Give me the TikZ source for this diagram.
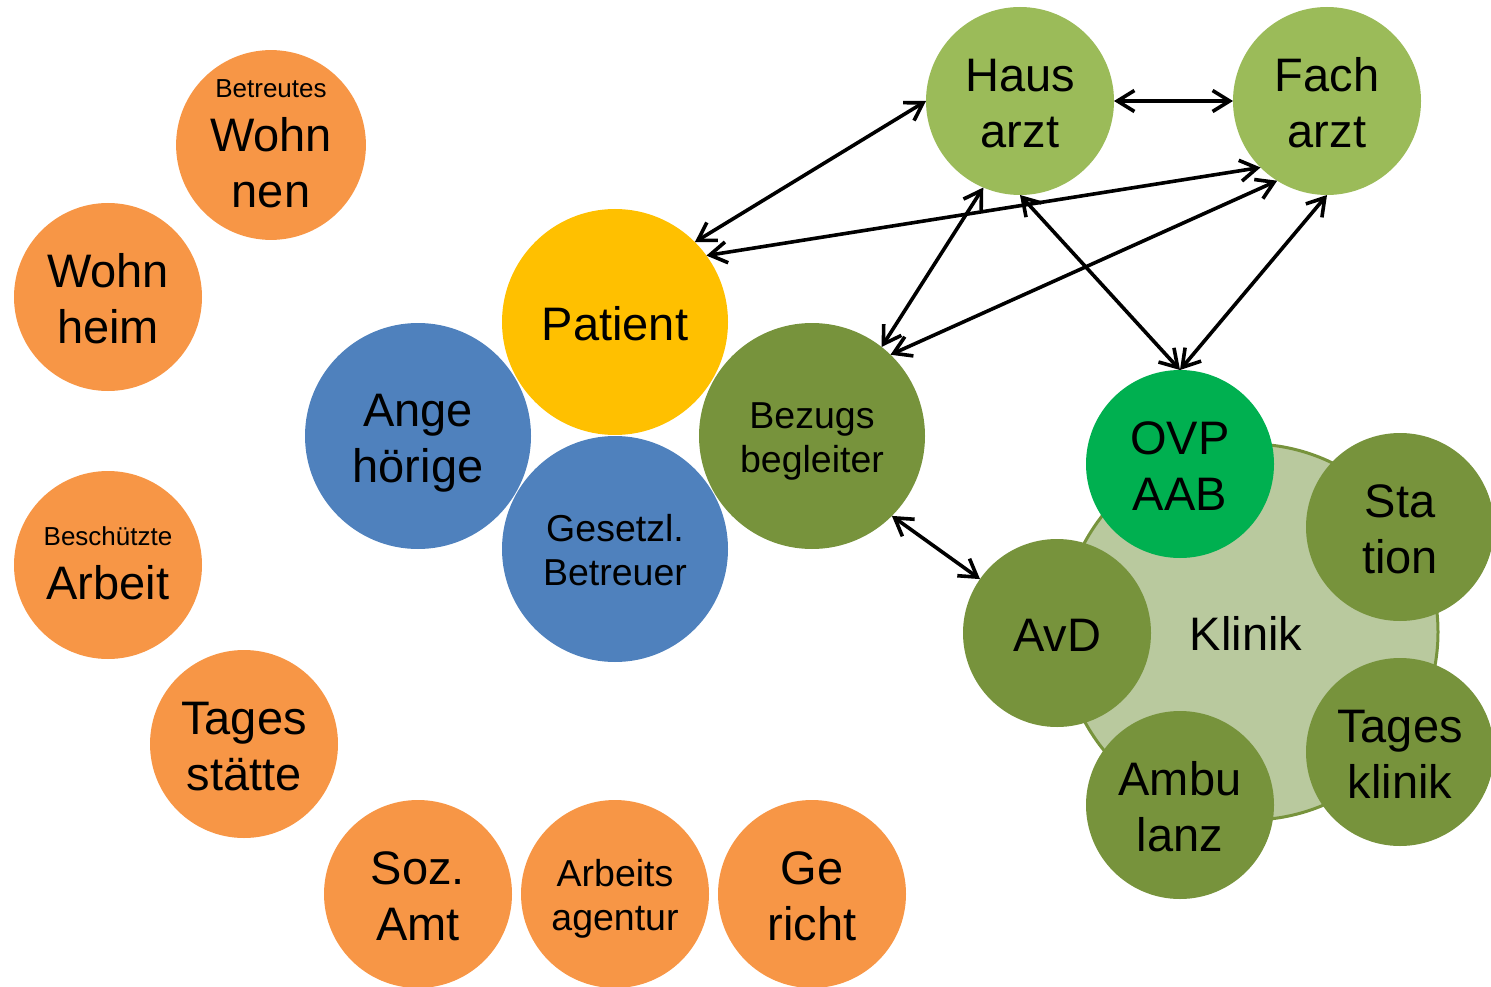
\documentclass[tikz,border=0pt]{standalone}
\usepackage{fontspec}
\setmainfont{Liberation Sans}
\usetikzlibrary{arrows.meta}
\definecolor{orng}{HTML}{F79646}
\definecolor{yell}{HTML}{FFC000}
\definecolor{blu}{HTML}{4F81BD}
\definecolor{oliv}{HTML}{77933C}
\definecolor{lgrn}{HTML}{9BBB59}
\definecolor{grn}{HTML}{00B050}
\definecolor{klin}{HTML}{B9C99E}
\newcommand\mystrut{\rule[-0.21em]{0pt}{1.19em}}
\begin{document}
\begin{tikzpicture}[x=1pt,y=-1pt,
  bub/.style={circle,inner sep=0pt,outer sep=0pt,align=center,text=black,font=\fontsize{47}{56}\selectfont,execute at end node=\mystrut},
  orbub/.style={bub,minimum size=188pt},
  bigbub/.style={bub,minimum size=226pt},
  medtxt/.style={font=\fontsize{37.5}{44}\selectfont},
  link/.style={line width=3.6pt,{Straight Barb[length=17pt,width=21pt]}-{Straight Barb[length=17pt,width=21pt]}}]
\useasboundingbox (0,0) rectangle (1491,987);

% orange circles
\node[orbub,fill=orng] (bw) at (271,145) {{\fontsize{26}{30}\selectfont\mystrut Betreutes}\\[-2pt]Wohn\\nen};
\node[orbub,fill=orng] (wh) at (108,297) {\mystrut Wohn\\heim};
\node[orbub,fill=orng] (ba) at (108,565) {{\fontsize{26}{30}\selectfont\mystrut Beschützte}\\[-2pt]Arbeit};
\node[orbub,fill=orng] (ts) at (244,744) {\mystrut Tages\\stätte};
\node[orbub,fill=orng] (sa) at (418,894) {\mystrut Soz.\\Amt};
\node[orbub,fill=orng,medtxt] (aa) at (615,894) {\mystrut Arbeits\\agentur};
\node[orbub,fill=orng] (ge) at (812,894) {\mystrut Ge\\richt};

% central cluster
\node[bigbub,fill=yell] (pat) at (615,322) {\mystrut Patient};
\node[bigbub,fill=blu] (ang) at (418,436) {\mystrut Ange\\hörige};
\node[bigbub,fill=blu,medtxt] (gb) at (615,549) {\mystrut Gesetzl.\\Betreuer};
\node[bigbub,fill=oliv,medtxt] (bez) at (812,436) {\mystrut Bezugs\\begleiter};

% doctors
\node[orbub,fill=lgrn] (haus) at (1020,101) {\mystrut Haus\\arzt};
\node[orbub,fill=lgrn] (fach) at (1327,101) {\mystrut Fach\\arzt};

% clinic
\node[bub,minimum size=376pt,fill=klin,draw=oliv,line width=3pt] (klinik) at (1250,632) {\mystrut Klinik\hspace*{8pt}};
\node[orbub,fill=grn] (ovp) at (1180,464) {\mystrut OVP\\AAB};
\node[orbub,fill=oliv] (sta) at (1400,527) {\mystrut Sta\\tion};
\node[orbub,fill=oliv] (avd) at (1057,633) {\mystrut AvD};
\node[orbub,fill=oliv] (tk) at (1400,752) {\mystrut Tages\\klinik};
\node[orbub,fill=oliv] (amb) at (1180,805) {\mystrut Ambu\\lanz};

% connectors
\draw[link] (pat.45) -- (haus.180);
\draw[link] (pat.36) -- (fach.225);
\draw[link] (haus.0) -- (fach.180);
\draw[link] (haus.247) -- (bez.52);
\draw[link] (fach.238) -- (bez.46);
\draw[link] (haus.270) -- (ovp.90);
\draw[link] (fach.270) -- (ovp.90);
\draw[link] (bez.315) -- (avd.145);
\end{tikzpicture}
\end{document}
